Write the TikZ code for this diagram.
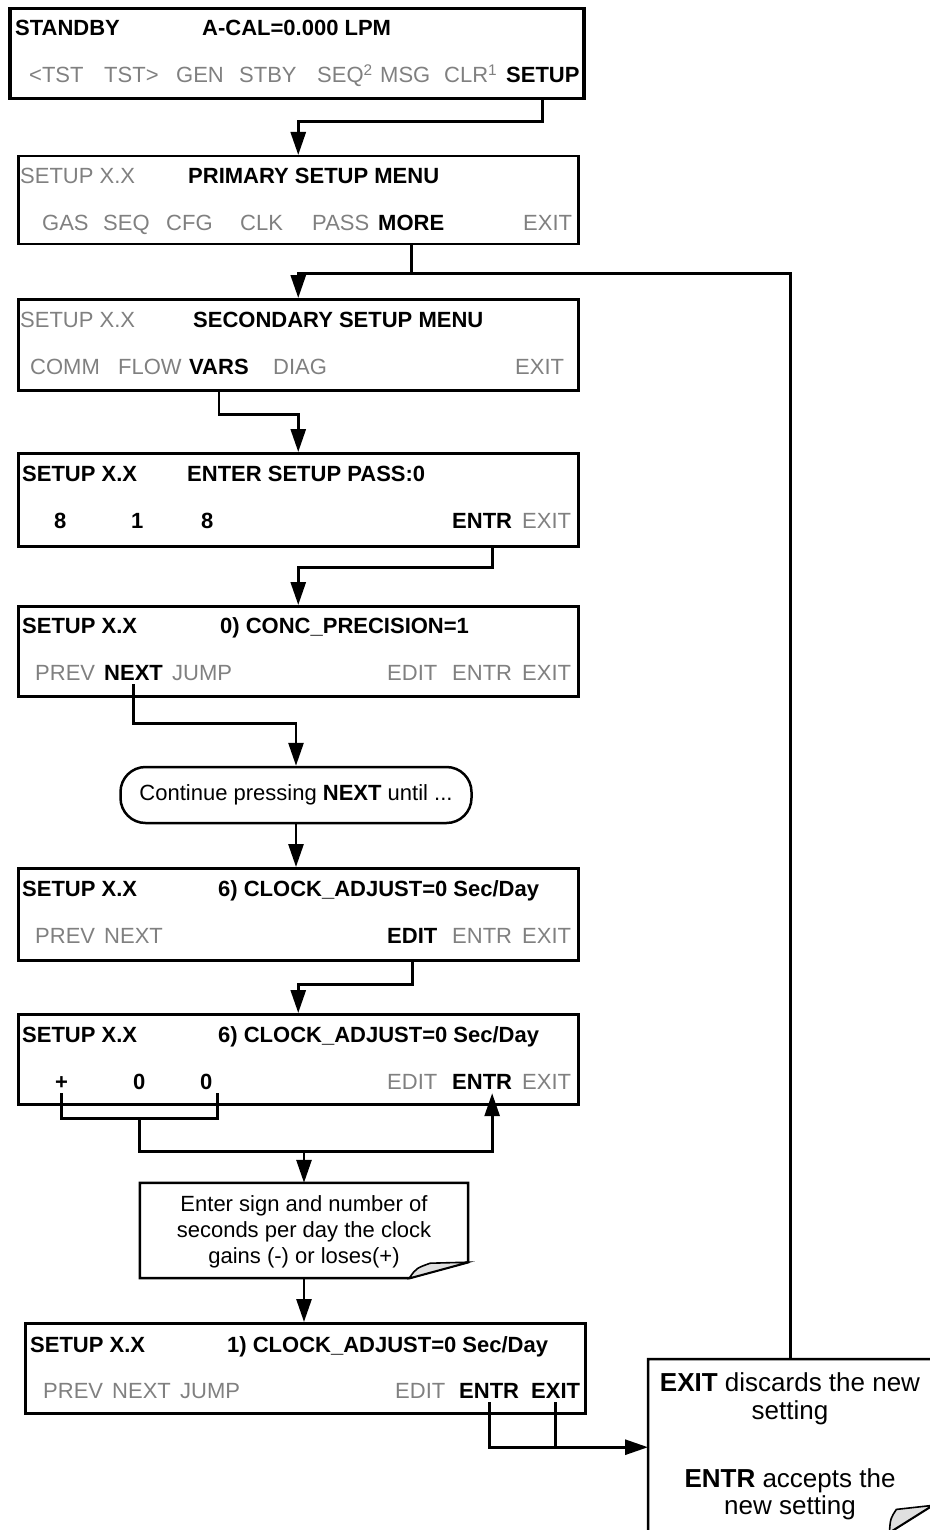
\documentclass[tikz,border=0pt]{standalone}
\usepackage{fontspec}
\setmainfont{Liberation Sans}
\usetikzlibrary{calc, arrows.meta, positioning}
\definecolor{keygray}{RGB}{128,128,128}
\definecolor{flapgray}{RGB}{224,224,224}
\newcommand{\lcd}{\fontsize{22}{26}\selectfont}
\newcommand{\cmtfont}{\fontsize{26}{28}\selectfont}

\begin{document}
\begin{tikzpicture}[x=1pt, y=-1pt, >={Triangle[length=23pt,width=15pt]},
  panel/.style={draw, line width=2.5pt, inner sep=0pt, minimum width=560pt, minimum height=91pt, anchor=north west},
  key/.style={anchor=base west, inner xsep=0pt, inner ysep=4pt, font=\lcd, text=keygray},
  hot/.style={key, text=black, font=\lcd\bfseries},
  wire/.style={line width=2.8pt},
  flow/.style={wire, ->},
  pill/.style={draw, line width=2.5pt, rounded corners=25pt, minimum width=351pt, minimum height=56pt, font=\lcd},
  memo/.style={anchor=base, inner sep=0pt, font=\lcd}]
  \useasboundingbox (0,0) rectangle (929,1530);

  % Standby screen
  \node[panel, minimum width=574pt, minimum height=90pt, line width=3.5pt] (b1) at (8,7) {};
  \node[hot] (b1name) at (15,36) {STANDBY};
  \node[hot] (b1cal) at (202,36) {A-CAL=0.000 LPM};
  \foreach \x/\t [count=\i] in {29/{<TST}, 104/{TST>}, 176/GEN, 239/STBY, 317/{SEQ\textsuperscript{2}}, 380/MSG, 444/{CLR\textsuperscript{1}}}
    \node[key] (b1k\i) at (\x,83) {\t};
  \node[hot] (b1set) at (506,83) {SETUP};

  % Primary setup menu
  \node[panel, minimum height=88pt] (b2) at (17,155) {};
  \node[key] (b2name) at (20,184) {SETUP X.X};
  \node[hot] (b2title) at (188,184) {PRIMARY SETUP MENU};
  \foreach \x/\t [count=\i] in {42/GAS, 103/SEQ, 166/CFG, 240/CLK, 312/PASS, 523/EXIT}
    \node[key] (b2k\i) at (\x,231) {\t};
  \node[hot] (b2more) at (378,231) {MORE};

  % Secondary setup menu
  \node[panel] (b3) at (17,298) {};
  \node[key] (b3name) at (20,327) {SETUP X.X};
  \node[hot] (b3title) at (193,327) {SECONDARY SETUP MENU};
  \foreach \x/\t [count=\i] in {30/COMM, 118/FLOW, 273/DIAG, 515/EXIT}
    \node[key] (b3k\i) at (\x,374) {\t};
  \node[hot] (b3vars) at (189,374) {VARS};

  % Password
  \node[panel, minimum height=93pt] (b4) at (17,452) {};
  \node[hot] (b4name) at (22,481) {SETUP X.X};
  \node[hot] (b4title) at (187,481) {ENTER SETUP PASS:0};
  \foreach \x/\t [count=\i] in {54/8, 131/1, 201/8}
    \node[hot] (b4d\i) at (\x,528) {\t};
  \node[hot] (b4entr) at (452,528) {ENTR};
  \node[key] (b4exit) at (522,528) {EXIT};

  % Precision
  \node[panel, minimum height=90pt] (b5) at (17,605) {};
  \node[hot] (b5name) at (22,633) {SETUP X.X};
  \node[hot] (b5title) at (220,633) {0) CONC\_PRECISION=1};
  \foreach \x/\t [count=\i] in {35/PREV, 172/JUMP, 387/EDIT, 452/ENTR, 522/EXIT}
    \node[key] (b5k\i) at (\x,680) {\t};
  \node[hot] (b5next) at (104,680) {NEXT};

  \node[pill] (cont) at (296,795) {Continue pressing \textbf{NEXT} until ...};

  % Clock adjust
  \node[panel, minimum height=92pt] (b7) at (17,867) {};
  \node[hot] (b7name) at (22,896) {SETUP X.X};
  \node[hot] (b7title) at (218,896) {6) CLOCK\_ADJUST=0 Sec/Day};
  \foreach \x/\t [count=\i] in {35/PREV, 104/NEXT, 452/ENTR, 522/EXIT}
    \node[key] (b7k\i) at (\x,943) {\t};
  \node[hot] (b7edit) at (387,943) {EDIT};

  % Clock edit
  \node[panel, minimum height=90pt] (b8) at (17,1013) {};
  \node[hot] (b8name) at (22,1042) {SETUP X.X};
  \node[hot] (b8title) at (218,1042) {6) CLOCK\_ADJUST=0 Sec/Day};
  \node[hot] (b8plus) at (55,1089) {+};
  \node[hot] (b8dig1) at (133,1089) {0};
  \node[hot] (b8dig2) at (200,1089) {0};
  \node[key] (b8edit) at (387,1089) {EDIT};
  \node[hot] (b8entr) at (452,1089) {ENTR};
  \node[key] (b8exit) at (522,1089) {EXIT};

  % Note with folded corner
  \node[inner sep=0pt, minimum width=328pt, minimum height=95pt] (note) at (304,1230.5) {};
  \draw[line width=2.5pt] (note.north west) -- (note.north east) -- ($(note.south east)+(0,-16)$)
    -- ($(note.south east)+(-59,0)$) -- (note.south west) -- cycle;
  \filldraw[fill=flapgray, line width=1.6pt] ($(note.south east)+(-59,0)$)
    .. controls ($(note.south east)+(-52,-10)$) .. ($(note.south east)+(-38,-15)$)
    -- ($(note.south east)+(0,-16)$) -- cycle;
  \foreach \t [count=\i] in {Enter sign and number of, seconds per day the clock, gains (-) or loses(+)}
    \node[memo] (n\i) at (304,1185+26*\i) {\t};

  % Final screen
  \node[panel, minimum height=90pt] (b9) at (24,1322) {};
  \node[hot] (b9name) at (30,1352) {SETUP X.X};
  \node[hot] (b9title) at (227,1352) {1) CLOCK\_ADJUST=0 Sec/Day};
  \foreach \x/\t [count=\i] in {43/PREV, 112/NEXT, 180/JUMP, 395/EDIT}
    \node[key] (b9k\i) at (\x,1398) {\t};
  \node[hot] (b9entr) at (459,1398) {ENTR};
  \node[hot] (b9exit) at (531,1398) {EXIT};

  % Comment box, cut by the page edge
  \node[inner sep=0pt, minimum width=284pt, minimum height=173pt, anchor=north west] (cmt) at (648,1359) {};
  \draw[line width=2.5pt] (cmt.north east) -- (cmt.north west) -- (cmt.south west)
    -- ($(cmt.south east)+(-43,0)$) -- ($(cmt.south east)+(0,-27)$) -- cycle;
  \filldraw[fill=flapgray, line width=1.6pt] ($(cmt.south east)+(-43,0)$)
    .. controls ($(cmt.south east)+(-42,-14)$) .. ($(cmt.south east)+(-36,-23)$)
    -- ($(cmt.south east)+(0,-27)$) -- cycle;
  \foreach \y/\t [count=\i] in {1391/{\textbf{EXIT} discards the new}, 1419/setting, 1487/{\textbf{ENTR} accepts the}, 1514/new setting}
    \node[memo, font=\cmtfont] (c\i) at (790,\y) {\t};

  % Connectors
  \draw[flow] (b1.south -| b1set) -- ++(0,21) -| (b2.north);
  \draw[wire] (b2.south -| b2more) -- ++(0,28) coordinate (jmore);
  \draw[flow] (jmore) -| (b3.north);
  \draw[wire] (jmore) -| (cmt.north);
  \draw[flow] (b3.south -| b3vars) -- ++(0,23) -| (b4.north);
  \draw[flow] ([xshift=10pt]b4.south -| b4entr) -- ++(0,20) -| (b5.north);
  \draw[flow] (b5next.south) -- ++(0,39) -| (cont.north);
  \draw[flow] (cont.south) -- (cont.south |- b7.north);
  \draw[flow] (b7.south -| b7edit) -- ++(0,23) -| (b8.north);
  \draw[wire] (b8plus.south) -- ++(0,25) coordinate (sl) -| ([xshift=11pt]b8dig2.south);
  \coordinate (sm) at ($(sl)!.5!([xshift=11pt]sl -| b8dig2)$);
  \draw[wire] (sm) -- ++(0,33) coordinate (sj) -- (sj -| note.north) coordinate (sn);
  \draw[flow] (sn) -- (note.north);
  \draw[flow] (sn) -| ([xshift=10pt]b8entr.south);
  \draw[flow] (note.south) -- (note.south |- b9.north);
  \draw[flow] (b9entr.south) -- ++(0,45) coordinate (ej) -- (ej -| cmt.west);
  \draw[wire] (b9exit.south) -- (b9exit.south |- ej);
\end{tikzpicture}
\end{document}
